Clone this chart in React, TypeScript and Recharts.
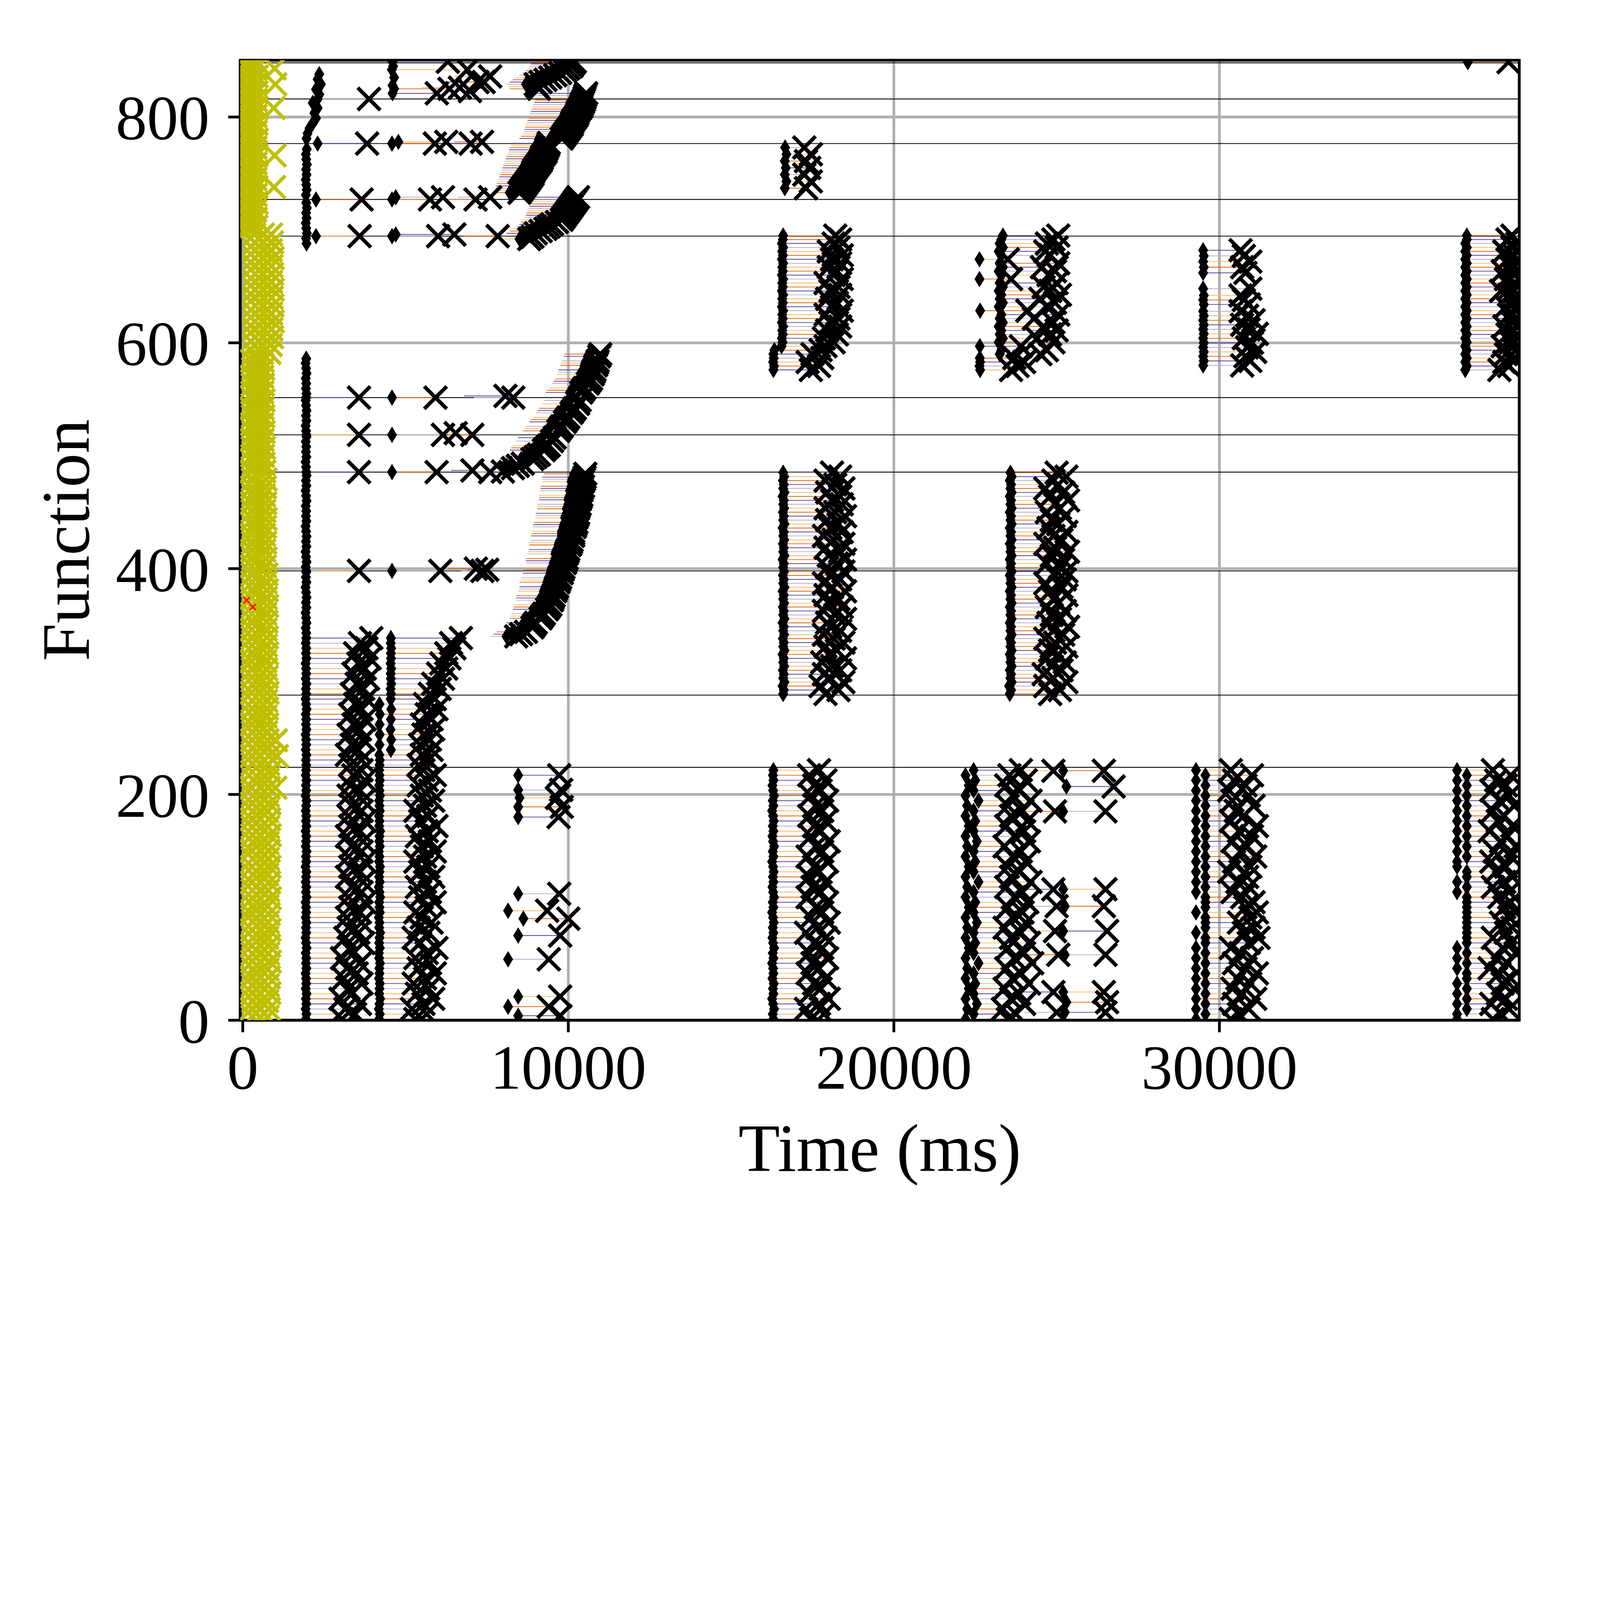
import React from 'react';
import {
  ScatterChart, Scatter, XAxis, YAxis, CartesianGrid, ReferenceLine, ReferenceArea, Label,
} from 'recharts';

// all sizes are laid out for a 6400 px wide page and scaled to the real viewport
const K = typeof window !== 'undefined' && window.innerWidth ? window.innerWidth / 6400 : 1;

const FONT = '"Liberation Serif", "DejaVu Serif", serif';
const SPAN_COLORS = ['#e66101', '#fdb863', '#b2abd2', '#5e3c99'];

const xTicks = [0, 10000, 20000, 30000];
const yTicks = [0, 200, 400, 600, 800];
const xDomain: [number, number] = [-77, 39210];
const yDomain: [number, number] = [0, 850.3];

// functions with a long-lived row marker
const rowLines = [224, 288, 398, 485.5, 518.5, 551.5, 694.5, 727, 776.5, 816, 848];

// cold starts: [function, ms, ms, ...]
const coldRows: number[][] = [
  [3,300,540,760],[10,270,520,800],[17,320,560,750],[24,280,530,820],[31,310,550,770],[38,260,520,800],[45,330,560,760],[52,290,540,830],[59,300,520,780],[66,270,550,810],
  [73,320,530,750],[80,280,560,820],[87,310,540,770],[94,260,520,800],[101,330,550,760],[108,290,530,830],[115,300,560,780],[122,270,540,810],[129,320,520,750],[136,280,550,820],
  [143,310,530,770],[150,260,560,800],[157,330,540,760],[164,290,520,830],[171,300,550,780],[178,270,530,810],[185,320,560,750],[192,280,540,820],[199,310,520,770],[206,260,550,800,1000],
  [213,330,530,760],[220,290,560,830],[227,300,540,780],[234,270,520,810,1050],[241,320,550,740],[248,280,530,760,1020],[255,310,520,720],[262,260,510,750],[269,330,520,700],[276,290,530,740],
  [283,300,510,720],[290,270,530,760],[297,320,500,700],[304,280,520,740],[311,310,510,720],[318,260,490,690],[325,330,530,750],[332,290,500,710],[339,300,520,740],[346,270,500,700],
  [353,320,520,730],[360,280,490,690],[367,310,530,750],[374,260,500,710],[381,330,520,740],[388,290,500,700],[395,300,510,730],[402,270,480,680],[409,320,500,700],[416,280,470,660],
  [423,310,490,690],[430,260,460,650],[437,330,490,680],[444,290,500,700],[451,300,470,660],[458,270,490,690],[465,320,470,650],[472,280,480,680],[479,310,500,700],[486,260,470,660],
  [493,330,470,640],[500,290,450,620],[507,300,470,650],[514,270,440,610],[521,320,470,640],[528,280,440,600],[535,310,460,630],[542,260,440,610],[549,330,470,640],[556,290,440,600],
  [563,300,450,620],[570,270,440,600],[577,320,460,630],[584,280,450,610],[591,340,590,820],[598,360,610,860],[605,380,640,900],[612,350,620,880],[619,370,650,920],[626,360,620,870],
  [633,380,640,910],[640,350,630,890],[647,370,650,920],[654,360,620,870],[661,380,640,900],[668,350,620,880],[675,370,650,920],[682,360,610,860],[689,380,640,900],[696,350,620,870],
  [703,150,280,420],[710,120,260,400],[717,160,270,380],[724,130,280,430],[731,150,270,400],[738,120,270,420,960],[745,160,280,390],[752,130,280,430],[759,150,270,400],[766,120,270,420,980],
  [773,160,280,390],[780,130,280,430],[787,150,270,400],[794,120,270,420],[801,160,280,390],[808,130,280,430,950],[815,150,270,400],[822,120,270,420],[829,160,280,390,1000],[836,130,280,430],
  [843,150,270,400,980],[849,140,280,420],
];

// failed invocations [function, ms]
const errorMarks: [number, number][] = [[372, 120], [366, 310]];

// function groups invoked in every wave
const fnLow = [
  1,5.5,10,14.5,19,23.5,28,32.5,37,41.5,46,50.5,55,59.5,64,68.5,73,77.5,82,86.5,
  91,95.5,100,104.5,109,113.5,118,122.5,127,131.5,136,140.5,145,149.5,154,158.5,163,167.5,172,176.5,
  181,185.5,190,194.5,199,203.5,208,212.5,217,221.5,
];
const fnLowUp = [226,230.5,235,239.5,244,248.5,253,257.5,262,266.5,271,275.5,280,284.5,289,293.5,298,302.5,307,311.5,316,320.5,325,329.5,334,338.5];
const fnMid = [
  289,292.5,296,299.5,303,306.5,310,313.5,317,320.5,324,327.5,331,334.5,338,341.5,345,348.5,352,355.5,
  359,362.5,366,369.5,373,376.5,380,383.5,387,390.5,394,397.5,401,404.5,408,411.5,415,418.5,422,425.5,
  429,432.5,436,439.5,443,446.5,450,453.5,457,460.5,464,467.5,471,474.5,478,481.5,485,
];
const fnUpper = [
  576,579.5,583,586.5,590,593.5,597,600.5,604,607.5,611,614.5,618,621.5,625,628.5,632,635.5,639,642.5,
  646,649.5,653,656.5,660,663.5,667,670.5,674,677.5,681,684.5,688,691.5,695,
];
const fnG = [580,584,588,592,596,600,604,608,612,616,620,624,628,634,638,642,648,662,667,672,677,682];

// waves: [start ms, end ms] per function of the group
const waveALow: [number, number][] = [
  [1940,3050],[1955,3450],[1930,3150],[1950,3600],[1940,3000],[1960,3350],[1935,3250],[1950,3650],[1945,3100],[1930,3500],
  [1955,3200],[1940,3600],[1950,3050],[1935,3400],[1960,3300],[1945,3700],[1930,3150],[1950,3550],[1940,3250],[1955,3650],
  [1935,3200],[1950,3600],[1945,3300],[1930,3750],[1960,3250],[1940,3650],[1950,3350],[1935,3700],[1945,3200],[1955,3600],
  [1930,3300],[1950,3750],[1940,3250],[1960,3650],[1935,3350],[1945,3700],[1950,3200],[1930,3600],[1955,3300],[1940,3750],
  [1950,3250],[1935,3650],[1945,3350],[1960,3700],[1930,3250],[1950,3600],[1940,3300],[1955,3750],[1935,3400],[1945,3650],
];
const waveAUp: [number, number][] = [
  [1950,3300],[1940,3650],[1955,3200],[1935,3550],[1950,3350],[1945,3700],[1930,3250],[1955,3600],[1940,3400],[1950,3750],
  [1935,3300],[1960,3650],[1945,3450],[1930,3800],[1950,3350],[1940,3700],[1955,3500],[1935,3850],[1950,3400],[1945,3750],
  [1930,3550],[1955,3900],[1940,3450],[1950,3800],[1935,3600],[1950,3950],
];
const waveCLow: [number, number][] = [
  [4190,5300],[4210,5650],[4180,5200],[4200,5550],[4220,5850],[4190,5350],[4200,5700],[4210,5250],[4185,5600],[4200,5900],
  [4195,5400],[4215,5750],[4190,5300],[4180,5650],[4210,5950],[4190,5450],[4200,5250],[4220,5700],[4190,5400],[4200,5800],
  [4180,5500],[4210,5300],[4200,5650],[4190,5900],[4220,5450],[4200,5750],[4180,5350],[4210,5600],[4190,5850],[4200,5450],
  [4215,5700],[4190,5300],[4200,5600],[4180,5900],[4210,5500],[4195,5750],[4200,5350],[4220,5650],[4190,5950],[4200,5450],
  [4185,5700],[4210,5300],[4200,5600],[4190,5850],[4215,5500],[4200,5750],[4190,5400],[4210,5650],[4200,5900],[4190,5550],
];
const waveCUp: [number, number][] = [
  [4200,5400],[4210,5700],[4195,5500],[4550,5800],[4200,5450],[4560,5750],[4205,5550],[4540,5850],[4200,5500],[4550,5800],
  [4210,5650],[4560,5950],[4200,5600],[4545,5900],[4555,5750],[4540,6050],[4560,5850],[4550,6150],[4545,6000],[4560,6250],
  [4540,6100],[4555,6350],[4550,6250],[4560,6500],[4545,6400],[4550,6700],
];
const waveELow: [number, number][] = [
  [16300,17450],[16280,17850],[16320,17300],[16290,17700],[16260,18000],[16300,17400],[16285,17750],[16310,17550],[16270,17900],[16300,17350],
  [16290,17700],[16260,17500],[16300,17950],[16280,17400],[16320,17800],[16290,17550],[16270,17900],[16300,17300],[16280,17650],[16310,18000],
  [16290,17450],[16260,17800],[16300,17600],[16280,17950],[16320,17350],[16290,17750],[16270,17500],[16300,17900],[16285,17400],[16310,17700],
  [16290,17550],[16260,17950],[16300,17350],[16280,17800],[16320,17600],[16290,18000],[16270,17450],[16300,17750],[16280,17550],[16310,17900],
  [16290,17400],[16260,17800],[16300,17600],[16280,17950],[16320,17450],[16290,17750],[16270,17550],[16300,17900],[16285,17400],[16300,17700],
];
const waveEMid: [number, number][] = [
  [16600,17900],[16620,18300],[16580,17750],[16640,18450],[16600,18050],[16620,17850],[16590,18350],[16630,18100],[16600,17800],[16620,18500],
  [16580,18000],[16640,18250],[16600,17900],[16620,18450],[16590,18150],[16630,17850],[16600,18350],[16620,18050],[16580,17950],[16640,18500],
  [16600,18200],[16620,17850],[16590,18400],[16630,18000],[16600,18300],[16620,17900],[16580,18500],[16640,18100],[16600,17850],[16620,18350],
  [16590,18050],[16630,18450],[16600,17950],[16620,18250],[16580,18500],[16640,18000],[16600,18350],[16620,17900],[16590,18450],[16630,18150],
  [16600,17850],[16620,18400],[16580,18050],[16640,18300],[16600,17950],[16620,18500],[16590,18200],[16630,17900],[16600,18400],[16620,18100],
  [16580,18350],[16640,17950],[16600,18450],[16620,18200],[16590,17900],[16630,18350],[16600,18100],
];
const waveEUp: [number, number][] = [
  [16300,17450],[16320,17700],[16290,17350],[16310,17800],[16300,17500],[16330,17750],[16550,17900],[16580,18150],[16560,17850],[16590,18250],
  [16570,17950],[16600,18350],[16560,18050],[16590,18300],[16570,17900],[16600,18400],[16560,18100],[16590,18250],[16570,17950],[16600,18350],
  [16560,18050],[16590,18300],[16570,17900],[16600,18400],[16560,18150],[16590,18250],[16570,18000],[16600,18350],[16560,18100],[16590,18400],
  [16570,18000],[16600,18300],[16560,18150],[16590,18350],[16600,18200],
];
const waveFLow: [number, number][] = [
  [22200,23500],[22450,23750],[22250,23350],[22550,24000],[22200,23600],[22450,23850],[22300,23400],[22500,24150],[22200,23650],[22450,23900],
  [22250,23450],[22600,24250],[22200,23700],[22450,24000],[22300,23500],[22500,24150],[22200,23600],[22450,23900],[22250,23400],[22550,24050],
  [22200,23650],[22450,23950],[22300,23500],[22500,24100],[22200,23700],[22450,23950],[22250,23450],[22600,24200],[22200,23600],[22450,23850],
  [22300,23500],[22500,24050],[22200,23650],[22450,23900],[22250,23400],[22550,24150],[22200,23700],[22450,24000],[22300,23450],[22500,24100],
  [22200,23600],[22450,23950],[22250,23500],[22600,24200],[22200,23650],[22450,23850],[22300,23450],[22500,24050],[22200,23550],[22450,23900],
];
const waveFMid: [number, number][] = [
  [23560,24800],[23600,25100],[23540,24650],[23620,25300],[23580,24900],[23600,24600],[23560,25150],[23620,24850],[23580,25250],[23600,24700],
  [23560,25050],[23620,24800],[23580,25300],[23600,24950],[23560,24650],[23620,25200],[23580,24900],[23600,25350],[23560,24750],[23620,25100],
  [23580,24850],[23600,25250],[23560,24700],[23620,25050],[23580,24900],[23600,25300],[23560,24800],[23620,25150],[23580,24650],[23600,25250],
  [23560,24950],[23620,25300],[23580,25100],[23600,24700],[23560,25200],[23620,24850],[23580,25350],[23600,24950],[23560,24650],[23620,25150],
  [23580,24900],[23600,25300],[23560,24750],[23620,25050],[23580,24850],[23600,25250],[23560,24700],[23620,25100],[23580,24950],[23600,25350],
  [23560,24800],[23620,25200],[23580,24650],[23600,25050],[23560,24900],[23620,25300],[23580,25000],
];
const waveFUp: [number, number][] = [
  [22650,23600],[22630,23800],[22650,24000],[22640,23700],[23250,24500],[23300,24700],[22640,23900],[23220,24900],[23350,24400],[23250,24800],
  [23300,25000],[23220,24600],[23350,24900],[23250,24300],[23300,25050],[22650,24100],[23220,24700],[23350,24950],[23250,24500],[23300,25100],
  [23220,24800],[23350,24600],[23250,25000],[22630,23600],[23300,24750],[23220,24950],[23350,24550],[23250,25050],[22630,23500],[23300,24800],
  [23220,24650],[23350,25000],[23250,24700],[23300,24900],[23350,25050],
];
const waveGLow: [number, number][] = [
  [29280,30350],[29570,30600],[29280,30900],[29570,30450],[29280,31100],[29570,30700],[29280,30400],[29570,30950],[29280,30550],[29570,31150],
  [29280,30800],[29570,30450],[29280,31000],[29570,30650],[29280,30350],[29570,30900],[29570,31200],[29280,30750],[29570,31050],[29570,30600],
  [29570,30950],[29280,31150],[29570,30800],[29570,31050],[29570,30700],[29280,30400],[29570,30900],[29280,30550],[29570,30850],[29280,30300],
  [29570,30950],[29280,30450],[29570,31100],[29280,30650],[29570,30850],[29280,30400],[29570,31000],[29280,30600],[29570,31150],[29280,30350],
  [29570,30750],[29280,30500],[29570,31050],[29280,30400],[29570,30900],[29280,30300],[29570,30800],[29280,30450],[29570,31000],[29280,30350],
];
const waveGUp: [number, number][] = [
  [29500,30700],[29520,30950],[29500,30800],[29520,31100],[29500,30850],[29520,31000],[29500,30750],[29520,31150],[29500,30900],[29520,30700],
  [29500,31050],[29520,30850],[29500,30650],[29520,30900],[29500,30750],[29520,30650],[29500,30950],[29500,30800],[29520,30700],[29500,30950],
  [29520,30750],[29500,30650],
];
const waveHLow: [number, number][] = [
  [37300,38400],[37300,38650],[37600,38900],[37300,38350],[37600,38800],[37300,38550],[37600,39050],[37300,38700],[37600,38950],[37600,38600],
  [37300,38300],[37600,38850],[37300,38500],[37600,39100],[37300,38700],[37600,38950],[37600,38400],[37600,38800],[37600,39000],[37600,38650],
  [37600,38900],[37600,39100],[37600,38750],[37600,38950],[37600,38600],[37300,38900],[37600,38400],[37300,38750],[37600,39000],[37600,38500],
  [37300,38800],[37300,38350],[37600,38950],[37300,38450],[37600,39100],[37300,38650],[37600,38850],[37300,38300],[37600,39000],[37300,38550],
  [37600,38750],[37300,38400],[37600,39050],[37300,38600],[37600,38900],[37300,38350],[37600,38800],[37300,38500],[37600,38950],[37300,38400],
];
const waveHUp: [number, number][] = [
  [37550,38600],[37600,38900],[37550,38750],[37600,39050],[37550,38800],[37600,39100],[37550,38700],[37600,38950],[37550,39150],[37600,38850],
  [37550,39050],[37600,38750],[37550,39000],[37600,39150],[37550,38900],[37600,39100],[37550,38800],[37600,39000],[37550,39150],[37600,38900],
  [37550,38650],[37600,38950],[37550,39100],[37600,38800],[37550,39050],[37600,38700],[37550,38950],[37600,39150],[37550,38850],[37600,39050],
  [37550,38750],[37600,39000],[37550,39150],[37600,38850],[37600,39000],
];

// other invocations [function, start ms, end ms]
const otherCalls: [number, number, number][] = [
  [398,1950,3571],[398,4585,6070],[485.5,1950,3571],[485.5,4585,5955],[518.5,1950,3571],[518.5,4585,6150],[551.5,1950,3571],[551.5,4585,5921],
  [694.5,2250,3590],[694.5,4585,6000],[696,4700,6500],[727,2250,3650],[727,4585,5750],[729,4700,6150],[776.5,2300,3820],[776.5,4585,5900],
  [778,4780,6250],[816,2300,3878],[821,4600,5960],[825,4650,6350],[842,4580,6900],[849,4600,6300],
  [4,8460,9750],[12,8150,9400],[21,8460,9750],[54,8150,9400],[75,8460,9750],[90,8620,10000],[97,8150,9350],[112,8460,9720],
  [180,8460,9700],[189,8460,9800],[197,8500,9650],[204,8460,9780],[217,8460,9720],
  [737,16650,17300],[743,16700,17450],[749,16650,17250],[755,16680,17400],[761,16650,17300],[767,16700,17450],[773,16660,17250],
  [7,25250,26500],[16,25300,26550],[25,25200,26450],[58,25250,26500],[79,25200,26550],[101,25250,26450],[116,25200,26500],[185,25200,26500],
  [207,25300,26750],[221,25200,26450],
  [848.6,37630,38880],
];

// follow-up requests [function, from ms, end ms]: no start marker
const handoffs: [number, number, number][] = [
  [398,6700,7360],[399,6900,7510],[400,6300,7160],[485.5,6900,7600],[486,7300,7990],[487,6400,7055],[518.5,6300,7050],[520,5900,6540],
  [551.5,7100,8310],[553,6800,8070],[694.5,6800,7830],[727,6300,7150],[729,6600,7600],[776.5,6200,7000],[778,6500,7350],[823,5900,6980],
  [826,5500,6670],[831,6200,7210],[831,6800,7400],[836,6500,7600],
  [7,24000,25000],[25,23950,24900],[58,24000,25050],[79,23950,24950],[101,24000,25000],[116,23900,24900],[185,23950,24950],[221,23900,24900],
];

// queued invocations [function, queued ms, started ms, end ms]
const queued: [number, number, number, number][] = [
  [340,7600,8100,8400],[342,7700,8250,8550],[344,7800,8350,8700],[348,8000,8550,8900],[350,8050,8600,8950],[352,8100,8650,9000],[356,8200,8800,9150],[358,8220,8850,9200],
  [360,8250,8900,9250],[364,8300,9000,9350],[366,8320,9050,9400],[368,8350,9100,9450],[372,8400,9150,9500],[374,8400,9180,9520],[376,8400,9200,9550],[380,8450,9250,9600],
  [382,8480,9280,9620],[384,8500,9300,9650],[388,8500,9350,9700],[390,8520,9380,9720],[392,8550,9400,9750],[396,8600,9450,9800],[399,8620,9480,9830],[401,8650,9500,9850],
  [405,8700,9550,9900],[407,8700,9580,9920],[409,8700,9600,9950],[413,8750,9600,9950],[415,8780,9620,9980],[417,8800,9650,10000],[421,8800,9700,10050],[423,8820,9720,10080],
  [425,8850,9750,10100],[429,8850,9800,10150],[431,8870,9800,10150],[433,8900,9800,10150],[437,8900,9850,10200],[439,8920,9870,10220],[441,8950,9900,10250],[445,9000,9900,10250],
  [447,9000,9920,10280],[449,9000,9950,10300],[453,9050,9950,10300],[455,9050,9980,10320],[457,9050,10000,10350],[461,9100,10000,10350],[463,9100,10020,10380],[465,9100,10050,10400],
  [469,9150,10050,10400],[471,9150,10080,10420],[473,9150,10100,10450],[477,9200,10100,10450],[479,9200,10120,10480],[481,9200,10150,10500],[484,9250,10180,10520],[489,7500,8000,8300],
  [491,7600,8100,8450],[493,7700,8250,8600],[497,7900,8550,8900],[499,8000,8650,9000],[501,8100,8750,9100],[505,8200,8900,9250],[507,8250,8980,9320],[509,8300,9050,9400],
  [513,8400,9150,9500],[516,8450,9200,9580],[522,8600,9350,9700],[524,8650,9400,9750],[526,8700,9450,9800],[530,8800,9550,9900],[532,8850,9600,9950],[534,8900,9650,10000],
  [538,9000,9750,10100],[540,9050,9800,10150],[542,9100,9850,10200],[546,9200,9950,10300],[549,9250,10000,10350],[556,9300,10050,10400],[558,9350,10100,10450],[560,9400,10150,10500],
  [564,9500,10250,10600],[566,9550,10300,10650],[568,9600,10350,10700],[572,9650,10400,10750],[574,9680,10420,10780],[576,9700,10450,10800],[580,9750,10500,10850],[582,9780,10520,10880],
  [584,9800,10550,10900],[588,9850,10600,10950],[590,9880,10650,10980],
  [692,7900,8500,8800],[694,8000,8600,8900],[697,8100,8700,9000],[699,8200,8850,9150],[701,8300,9000,9300],[703,8400,9100,9400],[705,8500,9200,9500],[707,8550,9300,9650],
  [709,8600,9450,9800],[711,8650,9500,9850],[713,8700,9550,9900],[715,8720,9600,9950],[717,8750,9650,10000],[719,8780,9700,10050],[721,8800,9750,10100],[723,8820,9800,10150],
  [725,8850,9850,10200],[727,8870,9900,10250],[729,8900,9950,10300],[733,7700,8200,8500],[735,7720,8250,8550],[737,7750,8300,8600],[739,7780,8350,8650],[741,7800,8400,8700],
  [743,7820,8450,8750],[745,7850,8500,8800],[747,7880,8550,8850],[749,7900,8600,8900],[751,7920,8620,8920],[753,7950,8650,8950],[755,7980,8700,9000],[757,8000,8750,9050],
  [759,8020,8800,9100],[761,8050,8850,9150],[763,8080,8870,9180],[765,8100,8900,9200],[767,8120,8950,9250],[769,8150,9000,9300],[771,8180,9020,9320],[773,8200,9050,9350],
  [775,8250,9080,9380],[777,8300,9100,9400],[781,8500,9450,9800],[783,8550,9500,9850],[785,8600,9550,9900],[787,8620,9600,9950],[789,8650,9650,10000],[791,8680,9700,10050],
  [793,8700,9750,10100],[795,8720,9780,10120],[797,8750,9800,10150],[799,8780,9850,10200],[801,8800,9900,10250],[803,8820,9920,10280],[805,8850,9950,10300],[807,8880,10000,10350],
  [809,8900,10050,10400],[811,8920,10080,10420],[813,8950,10100,10450],[815,8980,10120,10480],[817,9000,10150,10500],[819,9020,10180,10520],[821,9050,10200,10550],[825,8200,8800,9100],
  [827,8150,8750,9050],[829,8100,8700,9000],[831,8200,8850,9150],[833,8300,9000,9300],[835,8400,9150,9450],[837,8500,9300,9600],[839,8600,9450,9750],[841,8700,9600,9900],
  [843,8750,9700,10000],[845,8800,9800,10100],[847,8850,9850,10150],[849,8900,9900,10200],
];

// start markers whose end falls in a later wave [function, ms]
const loneStarts: [number, number][] = [
  [343,1950],[347.5,1935],[352,1960],[356.5,1945],[361,1930],[365.5,1955],[370,1940],[374.5,1960],[379,1945],[383.5,1930],
  [388,1955],[392.5,1940],[397,1950],[401.5,1935],[406,1960],[410.5,1945],[415,1930],[419.5,1955],[424,1940],[428.5,1960],
  [433,1945],[437.5,1930],[442,1955],[446.5,1940],[451,1950],[455.5,1935],[460,1960],[464.5,1945],[469,1930],[473.5,1955],
  [478,1940],[482.5,1960],[490,1945],[494.5,1930],[499,1955],[503.5,1940],[508,1950],[512.5,1935],[517,1960],[522,1945],
  [526.5,1930],[531,1955],[535.5,1940],[540,1960],[544.5,1945],[549,1930],[555,1955],[559.5,1940],[564,1950],[568.5,1935],
  [573,1960],[577.5,1945],[582,1930],[586,1950],
  [688,1960],[692.5,1945],[697,1970],[701.5,1950],[706,1935],[710.5,1960],[715,1945],[719.5,1970],[724,1950],[731,1940],
  [735.5,1965],[740,1950],[744.5,1935],[749,1960],[753.5,1945],[758,1970],[762.5,1950],[767,1940],[771.5,1965],[781,1960],
  [785.5,1990],[790,2050],[794.5,2150],[799,2250],[803.5,2200],[808,2300],[812.5,2150],[820,2350],[824.5,2250],[829,2400],
  [833.5,2300],[838,2350],[835,4650],[828,4600],[845,4620],
];

const zipWave = (fns: number[], wave: [number, number][]): [number, number, number][] =>
  fns.filter((_, i) => wave[i]).map((f, i) => [f, wave[i][0], wave[i][1]]);

const calls: [number, number, number][] = [
  ...zipWave(fnLow, waveALow), ...zipWave(fnLowUp, waveAUp),
  ...zipWave(fnLow, waveCLow), ...zipWave(fnLowUp, waveCUp),
  ...zipWave(fnLow, waveELow), ...zipWave(fnMid, waveEMid), ...zipWave(fnUpper, waveEUp),
  ...zipWave(fnLow, waveFLow), ...zipWave(fnMid, waveFMid), ...zipWave(fnUpper, waveFUp),
  ...zipWave(fnLow, waveGLow), ...zipWave(fnG, waveGUp),
  ...zipWave(fnLow, waveHLow), ...zipWave(fnUpper, waveHUp),
  ...otherCalls,
];

const spans: [number, number, number][] = [
  ...calls,
  ...handoffs,
  ...queued.map(([f, q, , e]) => [f, q, e] as [number, number, number]),
];
const startPoints = [
  ...calls.map(([f, s]) => ({ t: s, f })),
  ...queued.map(([f, , s]) => ({ t: s, f })),
  ...loneStarts.map(([f, t]) => ({ t, f })),
];
const endPoints = spans.map(([f, , e]) => ({ t: e, f }));
const coldPoints = coldRows.flatMap(([f, ...ts]) => ts.map((t) => ({ t, f })));
const errorPoints = errorMarks.map(([f, t]) => ({ t, f }));

const Diamond = (p: any) => {
  const { cx, cy } = p;
  if (cx == null || cy == null) return null;
  const h = 33 * K;
  const w = 20 * K;
  return <path d={`M${cx},${cy - h}L${cx + w},${cy}L${cx},${cy + h}L${cx - w},${cy}Z`} fill="#000" />;
};

const makeCross = (color: string, size: number, width: number) => (p: any) => {
  const { cx, cy } = p;
  if (cx == null || cy == null) return null;
  const r = size * K;
  return (
    <path
      d={`M${cx - r},${cy - r}L${cx + r},${cy + r}M${cx - r},${cy + r}L${cx + r},${cy - r}`}
      stroke={color}
      strokeWidth={width * K}
      fill="none"
    />
  );
};

const BlackCross = makeCross('#000', 45, 15);
const YellowCross = makeCross('#bfbf00', 45, 14);
const RedCross = makeCross('#ff0000', 12, 6);

export default function App() {
  const W = 6400 * K - 16;
  const H = 4800 * K - 16;
  const yAxisW = 700 * K;
  const xAxisH = 600 * K;
  const plotLeft = 961 * K - 8;
  const plotTop = 241 * K - 8;
  const plotRight = 6077 * K - 8;
  const plotBottom = 4081 * K - 8;
  const tickStyle = { fontSize: 250 * K, fill: '#000', fontFamily: FONT };
  const lineStyle = { stroke: '#000', strokeWidth: 11 * K };

  return (
    <ScatterChart
      width={W}
      height={H}
      margin={{
        top: plotTop,
        right: W - plotRight,
        bottom: H - plotBottom - xAxisH,
        left: plotLeft - yAxisW,
      }}
      style={{ background: '#fff' }}
    >
      <CartesianGrid stroke="#b0b0b0" strokeWidth={11 * K} />
      <XAxis
        type="number"
        dataKey="t"
        domain={xDomain}
        ticks={xTicks}
        allowDataOverflow
        height={xAxisH}
        tickSize={48 * K}
        tickMargin={48 * K}
        tick={tickStyle}
        tickLine={lineStyle}
        axisLine={lineStyle}
      >
        <Label
          content={(props: any) => {
            const vb = props.viewBox;
            return (
              <text x={vb.x + vb.width / 2} y={vb.y + 603 * K} textAnchor="middle" fontSize={272 * K} fontFamily={FONT} fill="#000">
                Time (ms)
              </text>
            );
          }}
        />
      </XAxis>
      <YAxis
        type="number"
        dataKey="f"
        domain={yDomain}
        ticks={yTicks}
        allowDataOverflow
        width={yAxisW}
        tickSize={48 * K}
        tickMargin={75 * K}
        tick={tickStyle}
        tickLine={lineStyle}
        axisLine={lineStyle}
      >
        <Label
          content={(props: any) => {
            const vb = props.viewBox;
            const x = vb.x + 94 * K;
            const y = vb.y + vb.height / 2;
            return (
              <text x={x} y={y} transform={`rotate(-90, ${x}, ${y})`} textAnchor="middle" fontSize={272 * K} fontFamily={FONT} fill="#000">
                Function
              </text>
            );
          }}
        />
      </YAxis>

      {rowLines.map((f) => (
        <ReferenceLine key={`row-${f}`} y={f} stroke="#000" strokeWidth={3.3 * K} />
      ))}

      {spans.map(([f, s, e], i) => (
        <ReferenceLine
          key={`span-${i}`}
          segment={[{ x: s, y: f }, { x: e, y: f }]}
          stroke={SPAN_COLORS[i % 4]}
          strokeWidth={3 * K}
        />
      ))}

      <Scatter data={coldPoints} shape={YellowCross} isAnimationActive={false} />
      <Scatter data={errorPoints} shape={RedCross} isAnimationActive={false} />
      <Scatter data={startPoints} shape={Diamond} isAnimationActive={false} />
      <Scatter data={endPoints} shape={BlackCross} isAnimationActive={false} />

      <ReferenceArea
        x1={xDomain[0]}
        x2={xDomain[1]}
        y1={yDomain[0]}
        y2={yDomain[1]}
        fill="none"
        fillOpacity={0}
        stroke="#000"
        strokeWidth={11 * K}
      />
    </ScatterChart>
  );
}
